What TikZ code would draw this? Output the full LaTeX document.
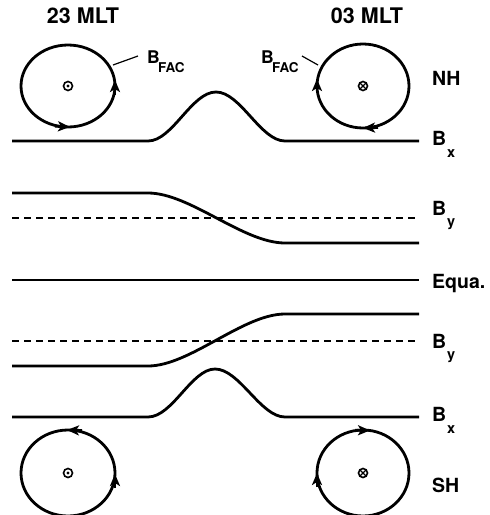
\documentclass[tikz,border=0pt]{standalone}
\usepackage{fontspec}
\setmainfont{TeX Gyre Heros}
\usetikzlibrary{arrows.meta}
\begin{document}
\begin{tikzpicture}[x=1pt,y=-1pt,
  thick line/.style={line width=2.8pt},
  thin line/.style={line width=1.2pt},
  dash line/.style={line width=1.2pt, dash pattern=on 7pt off 5pt},
  loop/.style={line width=2.8pt},
  tipped/.style={line width=2.8pt, -{Stealth[length=12pt,width=10pt,inset=3pt]}},
  title/.style={font=\bfseries\fontsize{21.5}{21.5}\selectfont, inner sep=0pt, anchor=base},
  lbl/.style={font=\bfseries\fontsize{19.5}{19.5}\selectfont, inner sep=0pt, anchor=base west},
  sub/.style={font=\bfseries\fontsize{14.5}{14.5}\selectfont, inner sep=0pt, anchor=base west},
  flbl/.style={font=\bfseries\fontsize{17.5}{17.5}\selectfont, inner sep=0pt, anchor=base west},
  fsub/.style={font=\bfseries\fontsize{13.5}{13.5}\selectfont, inner sep=0pt, anchor=base west},
  ring/.style={line width=1.6pt},
]
\useasboundingbox (0,0) rectangle (490,515);
\clip (0,0) rectangle (490,515);

% titles
\node[title] (t1) at (83,23) {23 MLT};
\node[title] (t2) at (367,23) {03 MLT};

% right labels
\node[lbl] (nh) at (432,85) {NH};
\node[lbl] (bx1) at (432,145) {B};
\node[sub] (bx1s) at (447,157) {x};
\node[lbl] (by1) at (432,215) {B};
\node[sub] (by1s) at (447,226) {y};
\node[lbl] (eq) at (432,288) {Equa.};
\node[lbl] (by2) at (432,348) {B};
\node[sub] (by2s) at (447,359) {y};
\node[lbl] (bx2) at (432,421) {B};
\node[sub] (bx2s) at (447,433) {x};
\node[lbl] (sh) at (432,492) {SH};

% B_FAC labels
\node[flbl] (bf1) at (147,63) {B};
\node[fsub] (bf1s) at (158,72) {FAC};
\node[flbl] (bf2) at (261,63) {B};
\node[fsub] (bf2s) at (272,72) {FAC};
\draw[thin line] (113,65) -- (138,56);
\draw[thin line] (302,56) -- (318,65);

% top Bx
\draw[thick line] (12,141) -- (148,141)
  .. controls (172.5,141) and (191.5,92) .. (216,92)
  .. controls (240.5,92) and (260.5,141) .. (285,141) -- (419,141);
% top By
\draw[dash line] (12,218) -- (419,218);
\draw[thick line] (12,193) -- (148,193)
  .. controls (190,193) and (243,243) .. (285,243) -- (419,243);
% equator
\draw[thin line] (12,280) -- (419,280);
% lower By
\draw[dash line] (12,341) -- (419,341);
\draw[thick line] (12,366) -- (148,366)
  .. controls (190,366) and (243,314) .. (285,314) -- (419,314);
% lower Bx
\draw[thick line] (12,417) -- (148,417)
  .. controls (172.5,417) and (191.5,369) .. (215,369)
  .. controls (239.5,369) and (260.5,417) .. (285,417) -- (419,417);

% loops
\draw[loop] (68,86) ellipse [x radius=47pt, y radius=41pt];
\draw[loop] (363,86) ellipse [x radius=46pt, y radius=42pt];
\draw[loop] (68,473) ellipse [x radius=47pt, y radius=43pt];
\draw[loop] (363,473) ellipse [x radius=46pt, y radius=43pt];

% arrowheads
\draw[tipped] (55,126.2) -- (70,126.9);
\draw[tipped] (115,95) -- (115,80);
\draw[tipped] (317,93) -- (317,79);
\draw[tipped] (378,127.5) -- (363,128);
\draw[tipped] (82,430.5) -- (67,430);
\draw[tipped] (115,488) -- (115,474);
\draw[tipped] (355,430.2) -- (370,430.5);
\draw[tipped] (317,487) -- (317,473);

% current symbols
\draw[ring] (68,86) circle[radius=4.5pt];
\fill (68,86) circle[radius=1.6pt];
\draw[ring] (363,86) circle[radius=4.5pt];
\draw[line width=1.1pt] (360,83) -- (366,89) (360,89) -- (366,83);
\draw[ring] (68,473) circle[radius=4.5pt];
\fill (68,473) circle[radius=1.6pt];
\draw[ring] (363,473) circle[radius=4.5pt];
\draw[line width=1.1pt] (360,470) -- (366,476) (360,476) -- (366,470);
\end{tikzpicture}
\end{document}
